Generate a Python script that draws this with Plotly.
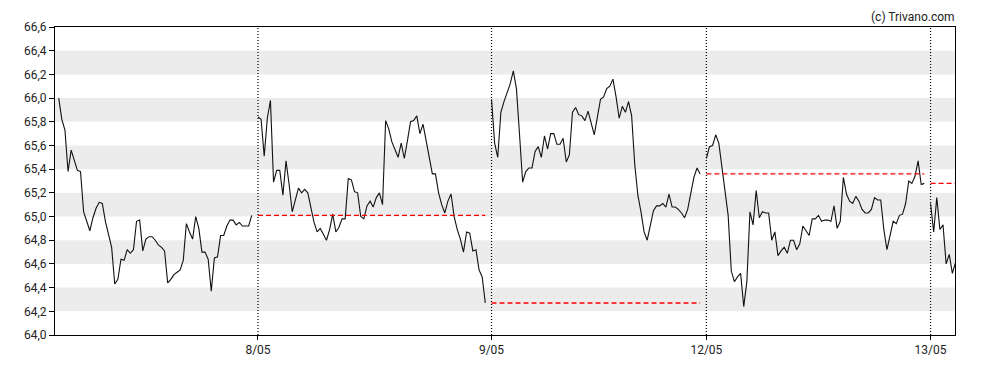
import plotly.graph_objects as go

# ---- data ----
day_labels = ["7/05", "8/05", "9/05", "12/05", "13/05"]

day1 = [66.00, 65.82, 65.73, 65.38, 65.56, 65.48, 65.39, 65.38, 65.04, 64.96,
        64.88, 64.99, 65.07, 65.12, 65.11, 64.96, 64.84, 64.74, 64.43, 64.47,
        64.64, 64.63, 64.72, 64.69, 64.72, 64.96, 64.97, 64.71, 64.81, 64.83,
        64.83, 64.80, 64.76, 64.74, 64.71, 64.44, 64.47, 64.51, 64.53, 64.55,
        64.63, 64.94, 64.87, 64.81, 65.00, 64.90, 64.70, 64.70, 64.64, 64.37,
        64.65, 64.66, 64.84, 64.84, 64.92, 64.97, 64.97, 64.93, 64.95, 64.92,
        64.92, 64.92, 65.01]

day2 = [65.84, 65.82, 65.51, 65.83, 65.98, 65.29, 65.39, 65.39, 65.18, 65.47,
        65.27, 65.04, 65.14, 65.24, 65.20, 65.23, 65.20, 65.08, 64.95, 64.87,
        64.90, 64.85, 64.80, 64.89, 65.02, 64.87, 64.91, 64.98, 64.98, 65.32,
        65.31, 65.21, 65.20, 65.00, 64.98, 65.09, 65.13, 65.08, 65.16, 65.20,
        65.10, 65.81, 65.74, 65.63, 65.56, 65.50, 65.62, 65.49, 65.64, 65.80,
        65.81, 65.85, 65.70, 65.78, 65.64, 65.50, 65.36, 65.36, 65.20, 65.10,
        65.03, 65.13, 65.19, 65.00, 64.89, 64.81, 64.70, 64.87, 64.86, 64.71,
        64.72, 64.55, 64.49, 64.27]

day3 = [65.99, 65.62, 65.50, 65.88, 65.97, 66.04, 66.12, 66.23, 66.08, 65.69,
        65.29, 65.38, 65.41, 65.41, 65.55, 65.59, 65.50, 65.68, 65.57, 65.70,
        65.70, 65.61, 65.61, 65.66, 65.46, 65.52, 65.88, 65.92, 65.86, 65.85,
        65.81, 65.89, 65.78, 65.69, 65.84, 65.99, 66.01, 66.08, 66.10, 66.16,
        66.01, 65.83, 65.93, 65.88, 65.97, 65.85, 65.44, 65.18, 65.04, 64.87,
        64.80, 64.92, 65.05, 65.09, 65.09, 65.11, 65.08, 65.19, 65.08, 65.08,
        65.06, 65.03, 64.99, 65.06, 65.21, 65.33, 65.41, 65.36]

day4 = [65.49, 65.59, 65.60, 65.69, 65.62, 65.40, 65.23, 65.01, 64.54, 64.45,
        64.49, 64.52, 64.24, 64.45, 65.04, 64.93, 65.22, 64.99, 65.04, 65.03,
        65.03, 64.80, 64.87, 64.67, 64.71, 64.74, 64.69, 64.80, 64.80, 64.72,
        64.77, 64.92, 64.88, 64.84, 64.98, 64.98, 65.01, 64.96, 64.97, 64.97,
        64.96, 65.09, 64.90, 64.96, 65.33, 65.19, 65.13, 65.11, 65.17, 65.13,
        65.06, 65.03, 65.03, 65.06, 65.16, 65.14, 65.14, 64.89, 64.72, 64.84,
        64.96, 64.94, 65.01, 65.02, 65.11, 65.30, 65.28, 65.34, 65.47, 65.27,
        65.28]

day5 = [65.11, 64.87, 65.16, 64.89, 64.93, 64.60, 64.68, 64.52, 64.61]

days = [day1, day2, day3, day4, day5]

y_ticks = [64.0, 64.2, 64.4, 64.6, 64.8, 65.0, 65.2, 65.4, 65.6, 65.8, 66.0, 66.2, 66.4, 66.6]

GAP = 2  # index slots between sessions

# ---- build index positions ----
xs_per_day = []
start = 0
for d in days:
    xs_per_day.append(list(range(start, start + len(d))))
    start = start + len(d) - 1 + GAP
day_starts = [xs[0] for xs in xs_per_day]
last_x = xs_per_day[-1][-1]

fig = go.Figure()

LINE_COL = "#111111"
for xs, d in zip(xs_per_day, days):
    fig.add_trace(go.Scatter(x=xs, y=d, mode="lines",
                             line=dict(color=LINE_COL, width=1.1),
                             hoverinfo="skip", showlegend=False))

# previous close reference lines
for i in range(1, len(days)):
    prev_close = days[i - 1][-1]
    xs = xs_per_day[i]
    fig.add_trace(go.Scatter(x=[xs[0], xs[-1]], y=[prev_close, prev_close], mode="lines",
                             line=dict(color="#ff0000", width=1.3, dash="5px,3px"),
                             hoverinfo="skip", showlegend=False))

shapes = []
# alternating grey bands
for k in range(1, len(y_ticks) - 1, 2):
    shapes.append(dict(type="rect", xref="paper", yref="y", x0=0, x1=1,
                       y0=y_ticks[k], y1=y_ticks[k + 1],
                       fillcolor="#ececec", line=dict(width=0), layer="below"))
# day separators
for xs in day_starts[1:]:
    shapes.append(dict(type="line", xref="x", yref="paper", x0=xs, x1=xs, y0=0, y1=1,
                       line=dict(color="#000000", width=1.2, dash="1px,2px"), layer="above"))

x_lo = -1.19
x_hi = last_x - 0.15

# page body has an 8px margin, so the figure is sized 8px smaller
fig.update_layout(
    width=980, height=362,
    margin=dict(l=47, r=33, t=13, b=35),
    paper_bgcolor="white", plot_bgcolor="white",
    separators=", ",
    font=dict(family="Roboto, Arial, sans-serif", size=12, color="#222222"),
    shapes=shapes,
    showlegend=False,
    xaxis=dict(range=[x_lo, x_hi], tickmode="array",
               tickvals=day_starts[1:], ticktext=day_labels[1:],
               showgrid=False, zeroline=False,
               showline=True, linecolor="#000000", linewidth=1, mirror=True,
               ticks="outside", ticklen=4, tickcolor="#000000",
               tickfont=dict(size=12, color="#222222")),
    yaxis=dict(range=[64.0, 66.6], tickmode="array", tickvals=y_ticks,
               tickformat=".1f",
               showgrid=False, zeroline=False,
               showline=True, linecolor="#000000", linewidth=1, mirror=True,
               ticks="outside", ticklen=5, tickcolor="#000000",
               tickfont=dict(size=12, color="#222222")),
    annotations=[dict(text="(c) Trivano.com", xref="paper", yref="paper",
                      x=1.002, y=1.0, xanchor="right", yanchor="bottom", yshift=1,
                      showarrow=False, font=dict(size=12, color="#222222"))],
)

fig.write_html("out.html")
